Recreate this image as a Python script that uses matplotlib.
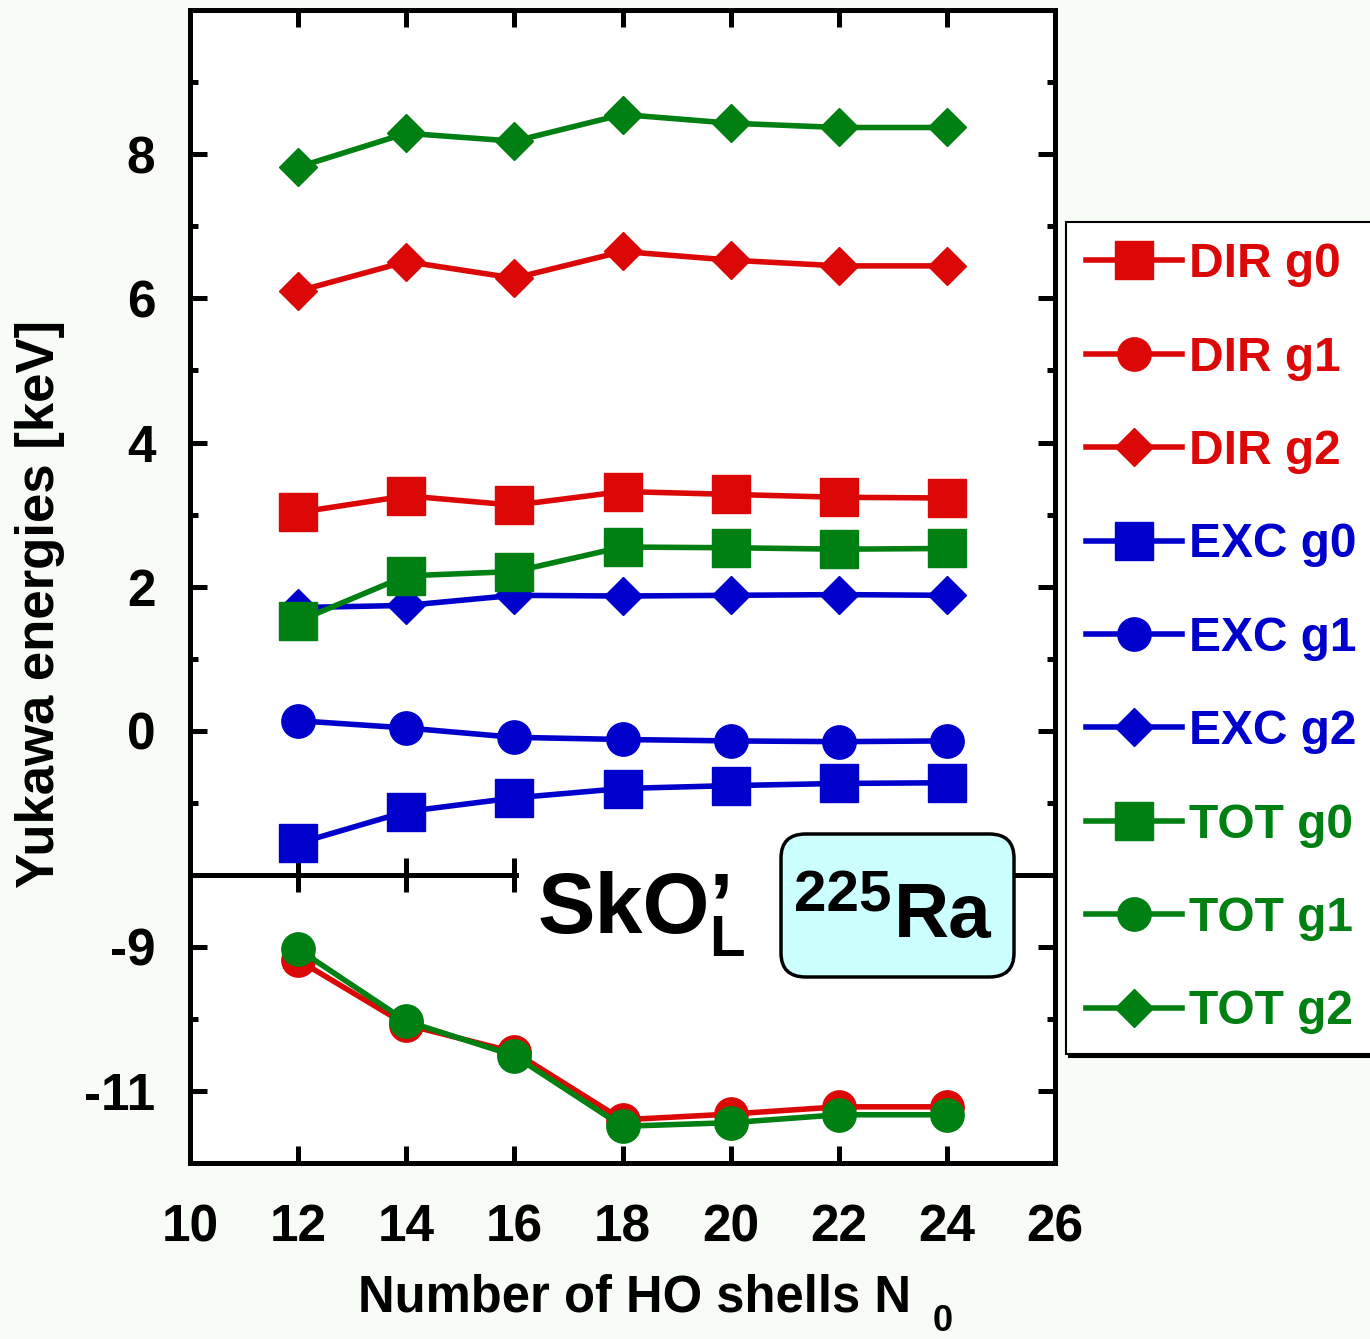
import matplotlib
matplotlib.use("Agg")
import matplotlib.pyplot as plt
from matplotlib.patches import Rectangle, FancyBboxPatch

plt.rcParams['font.family'] = ['Liberation Sans', 'DejaVu Sans']
plt.rcParams['font.weight'] = 'bold'
plt.rcParams['axes.unicode_minus'] = False

# data
shells = [12, 14, 16, 18, 20, 22, 24]
dir_g0 = [3.03, 3.26, 3.13, 3.32, 3.28, 3.24, 3.23]
dir_g1 = [-9.18, -10.08, -10.46, -11.40, -11.32, -11.22, -11.22]
dir_g2 = [6.10, 6.51, 6.28, 6.65, 6.53, 6.45, 6.45]
exc_g0 = [-1.56, -1.12, -0.93, -0.80, -0.76, -0.73, -0.72]
exc_g1 = [0.14, 0.04, -0.09, -0.12, -0.14, -0.15, -0.14]
exc_g2 = [1.71, 1.74, 1.88, 1.87, 1.88, 1.89, 1.88]
tot_g0 = [1.52, 2.15, 2.21, 2.55, 2.54, 2.52, 2.53]
tot_g1 = [-9.03, -10.03, -10.51, -11.49, -11.44, -11.33, -11.33]
tot_g2 = [7.82, 8.29, 8.18, 8.55, 8.43, 8.37, 8.37]

labels = ['DIR g0', 'DIR g1', 'DIR g2', 'EXC g0', 'EXC g1', 'EXC g2',
          'TOT g0', 'TOT g1', 'TOT g2']
values = [dir_g0, dir_g1, dir_g2, exc_g0, exc_g1, exc_g2, tot_g0, tot_g1, tot_g2]

red, blue, green = '#dc0808', '#0000cc', '#007f12'
colors = [red] * 3 + [blue] * 3 + [green] * 3
markers = ['s', 'o', 'D'] * 3
msizes = {'s': 27, 'o': 24, 'D': 19}

W, H = 1370, 1339
fig = plt.figure(figsize=(W / 100, H / 100), dpi=100, facecolor='#f7fcf7')
ax_up = fig.add_axes([190 / W, 1 - 875 / H, 865 / W, 865 / H])
ax_lo = fig.add_axes([190 / W, 1 - 1163 / H, 865 / W, 288 / H])
ax_up.set_zorder(2)
ax_lo.set_zorder(1)

handles = []
for lab, v, c, m in zip(labels, values, colors, markers):
    for ax in (ax_up, ax_lo):
        ln, = ax.plot(shells, v, color=c, marker=m, ms=msizes[m], lw=4,
                      mec=c, label=lab)
    handles.append(ln)

ax_up.set_ylim(-2, 10)
ax_lo.set_ylim(-12, -8)
for ax in (ax_up, ax_lo):
    ax.set_xlim(10, 26)
    ax.set_xticks(range(10, 27, 2))
    for s in ax.spines.values():
        s.set_linewidth(3.6)
    ax.tick_params(axis='both', which='major', direction='in', top=True,
                   right=True, length=12, width=3.6, labelsize=37)
    ax.tick_params(axis='y', which='minor', direction='in', left=True,
                   right=True, length=6, width=3.6)
    ax.tick_params(axis='y', pad=25)
    ax.tick_params(axis='x', pad=29)

ax_up.set_yticks([0, 2, 4, 6, 8])
ax_up.set_yticks([-1, 1, 3, 5, 7, 9], minor=True)
ax_up.tick_params(axis='x', labelbottom=False)
ax_lo.set_yticks([-11, -9])
ax_lo.set_yticks([-10], minor=True)
ax_lo.spines['top'].set_visible(False)

# white gap in the middle line behind the labels
fig.add_artist(Rectangle((519 / W, 1 - 898 / H), (781 - 519) / W, 48 / H,
                         transform=fig.transFigure, fc='white', ec='none', zorder=5))
fig.add_artist(FancyBboxPatch((781 / W, 1 - 977 / H), (1014 - 781) / W, 143 / H,
                              boxstyle='round,pad=0,rounding_size=0.018',
                              transform=fig.transFigure, fc='#ccffff', ec='black',
                              lw=2.5, zorder=6))
fig.text(538 / W, 1 - 933 / H, 'SkO\u2019', fontsize=62, ha='left', va='baseline', zorder=7)
fig.text(709 / W, 1 - 956 / H, 'L', fontsize=42, ha='left', va='baseline', zorder=7)
fig.text(794 / W, 1 - 911 / H, '225', fontsize=42, ha='left', va='baseline', zorder=7)
fig.text(894 / W, 1 - 937 / H, 'Ra', fontsize=55, ha='left', va='baseline', zorder=7)

fig.text(358 / W, 1 - 1311 / H, 'Number of HO shells N', fontsize=36.5,
         ha='left', va='baseline')
fig.text(933 / W, 1 - 1331 / H, '0', fontsize=26, ha='left', va='baseline')
fig.text(40 / W, 1 - 604 / H, 'Yukawa energies [keV]', fontsize=38,
         rotation=90, ha='center', va='center')

leg = fig.legend(handles, labels, loc='upper left',
                 bbox_to_anchor=(1066 / W, 1 - 222 / H),
                 bbox_transform=fig.transFigure, borderaxespad=0,
                 fontsize=34.5, handlelength=2.0, handletextpad=0.15,
                 borderpad=0.42, labelspacing=1.01, numpoints=1,
                 labelcolor='linecolor', fancybox=False,
                 shadow={'color': 'black', 'alpha': 1}, framealpha=1,
                 facecolor='white', edgecolor='black')
leg.get_frame().set_linewidth(1.5)

fig.savefig('out.png', dpi=100, facecolor=fig.get_facecolor())
